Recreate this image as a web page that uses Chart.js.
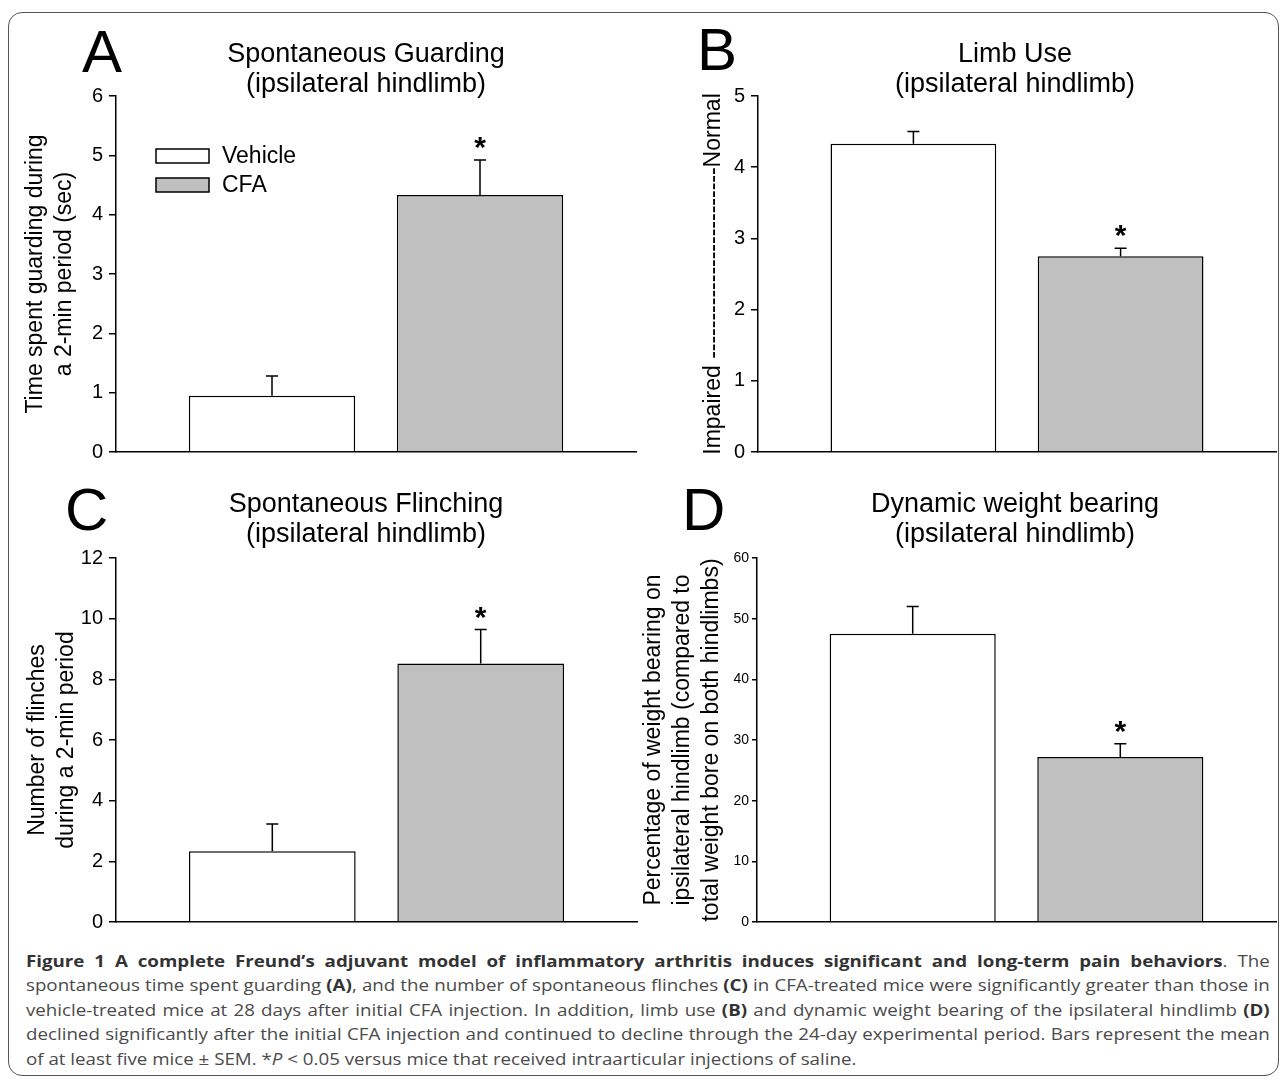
<!DOCTYPE html>
<html>
<head>
<meta charset="utf-8">
<script src="https://cdn.jsdelivr.net/npm/chart.js@4.4.1/dist/chart.umd.min.js"></script>
<style>
    html, body { margin: 0; padding: 0; background: #fff; }
    #page { position: relative; width: 1284px; height: 1082px; overflow: hidden; }
    #frame {
        position: absolute; left: 8px; top: 12px; width: 1271px; height: 1064px;
        border: 1.5px solid #555; border-radius: 14px; box-sizing: border-box;
    }
    canvas { position: absolute; }
    #caption {
        position: absolute; left: 26px; top: 949px; width: 1063px;
        transform: scaleX(1.17); transform-origin: 0 0;
        font-family: "Open Sans", sans-serif; font-size: 16px; line-height: 24.4px; color: #4a4a4a;
    }
    #caption div { text-align: justify; text-align-last: justify; white-space: nowrap; }
    #caption div.last { text-align-last: left; }
    #caption b { color: #333; }
</style>
</head>
<body>
<div id="page">
    <div id="frame"></div>
    <canvas id="chartA" width="642" height="470" style="left:0px;top:0px"></canvas>
    <canvas id="chartB" width="642" height="470" style="left:642px;top:0px"></canvas>
    <canvas id="chartC" width="642" height="470" style="left:0px;top:470px"></canvas>
    <canvas id="chartD" width="645" height="470" style="left:639px;top:470px"></canvas>
    <div id="caption">
        <div><b>Figure 1 A complete Freund’s adjuvant model of inflammatory arthritis induces significant and long-term pain behaviors</b>. The</div>
        <div>spontaneous time spent guarding <b>(A)</b>, and the number of spontaneous flinches <b>(C)</b> in CFA-treated mice were significantly greater than those in</div>
        <div>vehicle-treated mice at 28 days after initial CFA injection. In addition, limb use <b>(B)</b> and dynamic weight bearing of the ipsilateral hindlimb <b>(D)</b></div>
        <div>declined significantly after the initial CFA injection and continued to decline through the 24-day experimental period. Bars represent the mean</div>
        <div class="last">of at least five mice ± SEM. *<i>P</i> &lt; 0.05 versus mice that received intraarticular injections of saline.</div>
    </div>
</div>
<script>
const groups = ["Vehicle", "CFA"];
const significant = [false, true];

// A - guarding time (sec)
const guardingMean = [0.95, 4.33];
const guardingSem = [0.33, 0.59];
const guardingTicks = [0, 1, 2, 3, 4, 5, 6];

// B - limb use score
const limbUseMean = [4.33, 2.75];
const limbUseSem = [0.17, 0.11];
const limbUseTicks = [0, 1, 2, 3, 4, 5];

// C - flinches
const flinchMean = [2.33, 8.52];
const flinchSem = [0.9, 1.12];
const flinchTicks = [0, 2, 4, 6, 8, 10, 12];

// D - weight bearing (%)
const weightMean = [47.5, 27.2];
const weightSem = [4.5, 2.2];
const weightTicks = [0, 10, 20, 30, 40, 50, 60];

const FONT = '"Liberation Sans", Arial, sans-serif';
const fills = ["#ffffff", "#c0c0c0"];

const errorBars = {
    id: "errorBars",
    afterDatasetsDraw(chart) {
        const ctx = chart.ctx;
        const y = chart.scales.y;
        chart.data.datasets.forEach((ds, i) => {
            const bar = chart.getDatasetMeta(i).data[0];
            const top = y.getPixelForValue(ds.data[0] + ds.sem);
            ctx.save();
            ctx.strokeStyle = "#000";
            ctx.lineWidth = 1.5;
            ctx.beginPath();
            ctx.moveTo(bar.x, bar.y);
            ctx.lineTo(bar.x, top);
            ctx.moveTo(bar.x - 6, top);
            ctx.lineTo(bar.x + 6, top);
            ctx.stroke();
            if (ds.sig) {
                ctx.fillStyle = "#000";
                ctx.font = "bold 30px " + FONT;
                ctx.textAlign = "center";
                ctx.textBaseline = "alphabetic";
                ctx.fillText("*", bar.x, top - 3);
            }
            ctx.restore();
        });
    }
};

const decor = {
    id: "decor",
    afterDraw(chart, args, opts) {
        const ctx = chart.ctx;
        ctx.save();
        ctx.fillStyle = "#000";
        ctx.textBaseline = "alphabetic";
        ctx.font = "60px " + FONT;
        ctx.textAlign = "left";
        ctx.fillText(opts.letter, opts.letterX, opts.letterY);

        ctx.font = "27px " + FONT;
        ctx.textAlign = "center";
        opts.title.forEach((line, k) => {
            ctx.fillText(line, opts.titleX, opts.titleY[k]);
        });

        if (opts.legend) {
            ctx.font = "23px " + FONT;
            ctx.textAlign = "left";
            ctx.textBaseline = "middle";
            ctx.lineWidth = 1.5;
            ctx.strokeStyle = "#000";
            chart.data.datasets.forEach((ds, i) => {
                const yMid = opts.legend.y[i];
                ctx.fillStyle = ds.backgroundColor;
                ctx.fillRect(opts.legend.x, yMid - 7, 53, 14);
                ctx.strokeRect(opts.legend.x, yMid - 7, 53, 14);
                ctx.fillStyle = "#000";
                ctx.fillText(ds.label, opts.legend.x + 66, yMid + 1);
            });
        }
        ctx.restore();
    }
};

function makeChart(id, p) {
    return new Chart(document.getElementById(id), {
        type: "bar",
        data: {
            labels: [""],
            datasets: groups.map((g, i) => ({
                label: g,
                data: [p.mean[i]],
                sem: p.sem[i],
                sig: significant[i],
                backgroundColor: fills[i],
                borderColor: "#000",
                borderWidth: 1.5,
                categoryPercentage: 0.8,
                barPercentage: 0.8
            }))
        },
        options: {
            responsive: false,
            animation: false,
            devicePixelRatio: 1,
            layout: { padding: p.pad },
            plugins: {
                legend: { display: false },
                tooltip: { enabled: false },
                decor: p.decor
            },
            scales: {
                x: {
                    grid: { display: false },
                    border: { display: true, color: "#000", width: 1.5 },
                    ticks: { display: false },
                    afterFit: (s) => { s.height = 0; }
                },
                y: {
                    min: p.ticks[0],
                    max: p.ticks[p.ticks.length - 1],
                    ticks: {
                        stepSize: p.ticks[1] - p.ticks[0],
                        color: "#000",
                        padding: p.tickPad,
                        font: { family: FONT, size: p.tickSize }
                    },
                    grid: {
                        drawOnChartArea: false,
                        drawTicks: true,
                        tickLength: p.tickLen,
                        color: "#000",
                        lineWidth: 1.5
                    },
                    border: { display: true, color: "#000", width: 1.5 },
                    title: {
                        display: true,
                        text: p.yTitle,
                        color: "#000",
                        font: { family: FONT, size: 23, lineHeight: 1.27 },
                        padding: { top: p.yTitlePad, bottom: 0 }
                    },
                    afterFit: (s) => { s.width = p.axisLeft; }
                }
            }
        },
        plugins: [errorBars, decor]
    });
}

makeChart("chartA", {
    mean: guardingMean, sem: guardingSem, ticks: guardingTicks,
    pad: { left: 0, top: 96, right: 6, bottom: 11 },
    axisLeft: 116, tickSize: 20, tickLen: 7, tickPad: 6,
    yTitle: ["Time spent guarding during", "a 2-min period (sec)"], yTitlePad: 21,
    decor: {
        letter: "A", letterX: 82, letterY: 72,
        title: ["Spontaneous Guarding", "(ipsilateral hindlimb)"], titleX: 366, titleY: [62, 92],
        legend: { x: 156, y: [156, 185] }
    }
});

makeChart("chartB", {
    mean: limbUseMean, sem: limbUseSem, ticks: limbUseTicks,
    pad: { left: 0, top: 96, right: 8, bottom: 10 },
    axisLeft: 116, tickSize: 20, tickLen: 7, tickPad: 6,
    yTitle: "Impaired -------------------------Normal", yTitlePad: 57,
    decor: {
        letter: "B", letterX: 55, letterY: 70,
        title: ["Limb Use", "(ipsilateral hindlimb)"], titleX: 373, titleY: [62, 92]
    }
});

makeChart("chartC", {
    mean: flinchMean, sem: flinchSem, ticks: flinchTicks,
    pad: { left: 0, top: 88, right: 5, bottom: 18 },
    axisLeft: 116, tickSize: 20, tickLen: 7, tickPad: 6,
    yTitle: ["Number of flinches", "during a 2-min period"], yTitlePad: 23,
    decor: {
        letter: "C", letterX: 65, letterY: 60,
        title: ["Spontaneous Flinching", "(ipsilateral hindlimb)"], titleX: 366, titleY: [42, 72]
    }
});

makeChart("chartD", {
    mean: weightMean, sem: weightSem, ticks: weightTicks,
    pad: { left: 0, top: 88, right: 8, bottom: 18 },
    axisLeft: 118, tickSize: 14, tickLen: 5, tickPad: 3,
    yTitle: ["Percentage of weight bearing on", "ipsilateral hindlimb (compared to", "total weight bore on both hindlimbs)"],
    yTitlePad: 0,
    decor: {
        letter: "D", letterX: 43, letterY: 60,
        title: ["Dynamic weight bearing", "(ipsilateral hindlimb)"], titleX: 376, titleY: [42, 72]
    }
});
</script>
</body>
</html>
